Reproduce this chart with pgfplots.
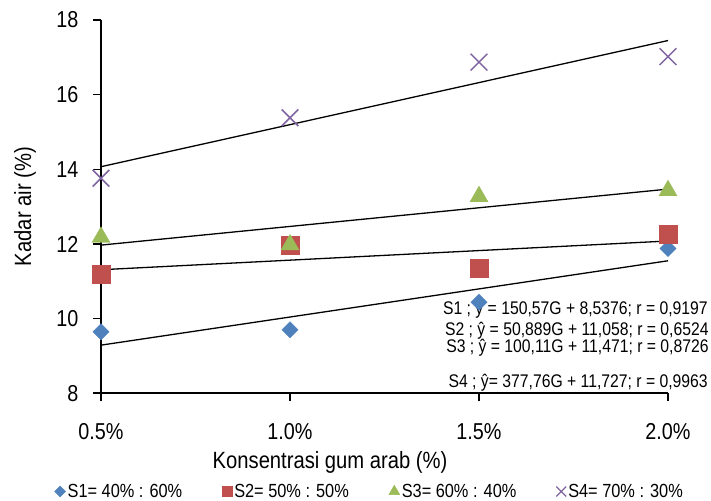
\documentclass[border=0pt]{standalone}
\usepackage{fontspec}
\setmainfont{Liberation Sans}[FakeStretch=0.86]
\usepackage{pgfplots}
\pgfplotsset{compat=1.18}
\definecolor{cS1}{HTML}{4F81BD}
\definecolor{cS2}{HTML}{C0504D}
\definecolor{cS3}{HTML}{9BBB59}
\definecolor{cS4}{HTML}{8064A2}
\begin{document}
\begin{tikzpicture}
\useasboundingbox (0bp,0bp) rectangle (711bp,501bp);
\begin{axis}[
  at={(101bp,107.7bp)}, anchor=south west,
  scale only axis, width=567bp, height=373.3bp,
  xmin=0.5, xmax=2.0, ymin=8, ymax=18,
  axis x line*=bottom, axis y line*=left,
  axis line style={line width=1.6bp, black},
  xtick={0.5,1,1.5,2}, xticklabels={0.5\%,1.0\%,1.5\%,2.0\%},
  ytick={8,10,12,14,16,18},
  tick align=outside, major tick length=8bp,
  tick style={line width=1.6bp, black},
  ticklabel style={font=\fontsize{23bp}{27bp}\selectfont},
  xticklabel style={yshift=-19bp},
  yticklabel style={xshift=-11bp},
  /pgf/number format/assume math mode=true,
  clip=false,
  xlabel={Konsentrasi gum arab (\%)},
  ylabel={Kadar air (\%)},
  label style={font=\fontsize{23.5bp}{27bp}\selectfont},
  xlabel style={at={(axis description cs:0.404,-0.184)}, anchor=center},
  ylabel style={at={(axis description cs:-0.134,0.5)}, anchor=center},
  legend columns=4,
  legend style={at={(axis description cs:0.474,-0.263)}, anchor=center, draw=none,
    font=\fontsize{19bp}{22bp}\selectfont, inner sep=0pt,
    /tikz/every even column/.append style={column sep=38bp}},
  legend cell align=left,
  legend image code/.code={\draw[#1] plot coordinates {(0bp,0bp)};},
]
\addlegendimage{only marks, mark=square*, mark size=3.9bp, mark options={rotate=45, fill=cS1, draw=cS1}}
\addlegendentry{S1= 40\% : 60\%}
\addlegendimage{only marks, mark=square*, mark size=5bp, mark options={fill=cS2, draw=cS2}}
\addlegendentry{S2= 50\% : 50\%}
\addlegendimage{only marks, mark=triangle*, mark size=6.3bp, mark options={fill=cS3, draw=cS3}}
\addlegendentry{S3= 60\% : 40\%}
\addlegendimage{only marks, mark=x, mark size=7bp, mark options={draw=cS4, line width=1.2bp}}
\addlegendentry{S4= 70\% : 30\%}

\addplot[forget plot, only marks, mark=square*, mark size=5.7bp, mark options={rotate=45, fill=cS1, draw=cS1}]
  coordinates {(0.5,9.65) (1.0,9.70) (1.5,10.44) (2.0,11.88)};
\addplot[forget plot, only marks, mark=square*, mark size=9bp, mark options={fill=cS2, draw=cS2}]
  coordinates {(0.5,11.20) (1.0,11.97) (1.5,11.36) (2.0,12.27)};
\addplot[forget plot, only marks, mark=triangle*, mark size=10.4bp, mark options={fill=cS3, draw=cS3}]
  coordinates {(0.5,12.18) (1.0,11.98) (1.5,13.27) (2.0,13.43)};
\addplot[forget plot, only marks, mark=x, mark size=11.8bp, mark options={draw=cS4, line width=1.5bp}]
  coordinates {(0.5,13.76) (1.0,15.38) (1.5,16.87) (2.0,17.02)};

\addplot[forget plot, black, line width=1.3bp] coordinates {(0.5,9.29) (2.0,11.55)};
\addplot[forget plot, black, line width=1.3bp] coordinates {(0.5,11.31) (2.0,12.08)};
\addplot[forget plot, black, line width=1.3bp] coordinates {(0.5,11.97) (2.0,13.47)};
\addplot[forget plot, black, line width=1.3bp] coordinates {(0.5,14.07) (2.0,17.45)};

\begin{scope}[every node/.style={anchor=east, inner sep=0pt, font=\fontsize{18.3bp}{22bp}\selectfont}]
\node at (rel axis cs:1.0705,0.223) {S1 ; ŷ = 150,57G + 8,5376; r = 0,9197};
\node at (rel axis cs:1.0720,0.168) {S2 ; ŷ = 50,889G + 11,058; r = 0,6524};
\node at (rel axis cs:1.0720,0.121) {S3 ; ŷ = 100,11G + 11,471; r = 0,8726};
\node at (rel axis cs:1.0705,0.027) {S4 ; ŷ= 377,76G + 11,727; r = 0,9963};
\end{scope}
\end{axis}
\end{tikzpicture}
\end{document}
